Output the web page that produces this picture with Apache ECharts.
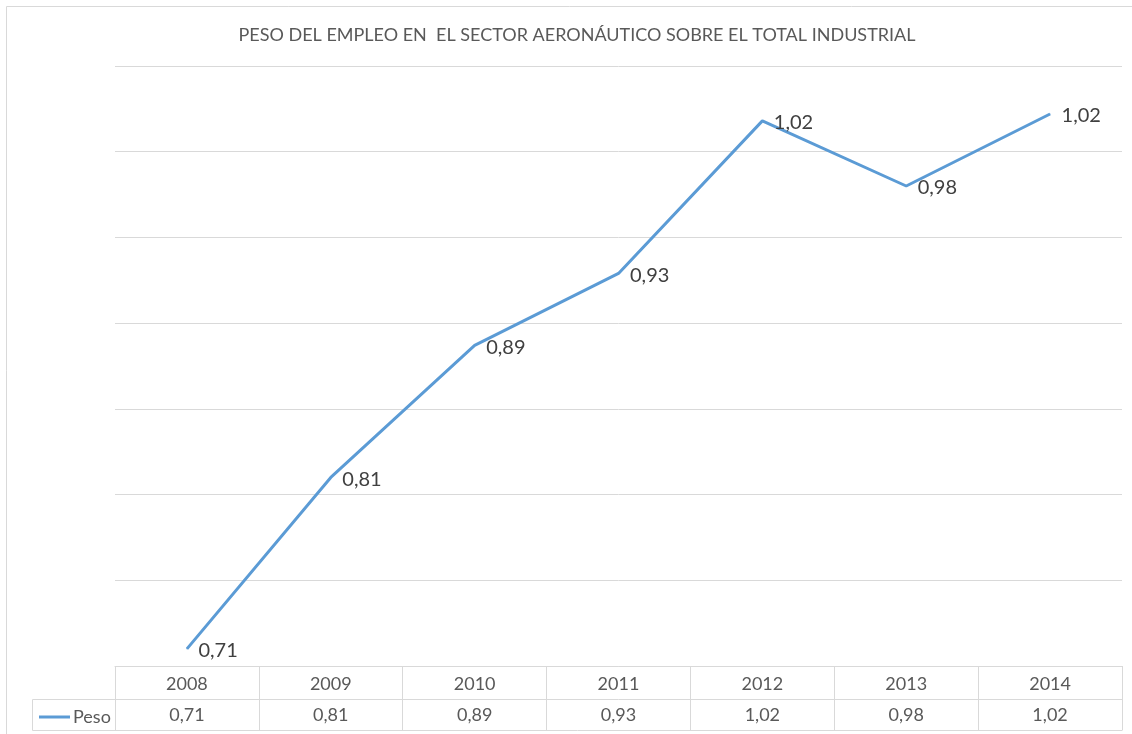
<!DOCTYPE html>
<html>
<head>
<meta charset="utf-8">
<script src="https://cdn.jsdelivr.net/npm/echarts@6/dist/echarts.min.js"></script>
<style>
  html, body { margin: 0; padding: 0; background: #fff; }
  #chart { width: 1132px; height: 734px; }
</style>
</head>
<body>
<div id="chart"></div>
<script>
const chartElement = document.getElementById('chart');
const myChart = echarts.init(chartElement);

// data
const years = ['2008', '2009', '2010', '2011', '2012', '2013', '2014'];
const peso = [0.710, 0.810, 0.887, 0.929, 1.018, 0.980, 1.022];
const seriesName = 'Peso';
const title = 'PESO DEL EMPLEO EN  EL SECTOR AERONÁUTICO SOBRE EL TOTAL INDUSTRIAL';

const FONT = 'Lato, "Open Sans", sans-serif';
const GRID_COLOR = '#d9d9d9';
const fmt = (v) => v.toFixed(2).replace('.', ',');

const option = {
    animation: false,
    title: {
        text: title,
        left: 572,
        top: 21,
        textAlign: 'center',
        textStyle: {fontFamily: FONT, fontSize: 18, fontWeight: 'normal', color: '#595959'},
    },
    legend: {
        data: [seriesName],
        left: 34,
        top: 703,
        icon: 'rect',
        itemWidth: 31,
        itemHeight: 3,
        itemGap: 4,
        textStyle: {fontFamily: FONT, fontSize: 18, color: '#595959', padding: [0, 0, 0, -2]},
    },
    grid: {left: 115, right: 10, top: 66, bottom: 68},
    xAxis: [
        {
            // year row of the data table
            type: 'category',
            data: years,
            boundaryGap: true,
            axisLine: {show: true, lineStyle: {color: GRID_COLOR, width: 1}},
            axisTick: {show: true, length: 64, lineStyle: {color: GRID_COLOR}},
            axisLabel: {margin: 9, fontFamily: FONT, fontSize: 18, color: '#595959'},
        },
        {
            // value row of the data table
            type: 'category',
            data: years,
            position: 'bottom',
            offset: 33,
            boundaryGap: true,
            axisLine: {show: true, lineStyle: {color: GRID_COLOR, width: 1}},
            axisTick: {show: false},
            axisLabel: {
                margin: 7,
                fontFamily: FONT,
                fontSize: 18,
                color: '#595959',
                formatter: (v, i) => fmt(peso[i]),
            },
        },
    ],
    yAxis: {
        type: 'value',
        min: 0.7,
        max: 1.05,
        interval: 0.05,
        axisLine: {show: false},
        axisTick: {show: false},
        axisLabel: {show: false},
        splitLine: {show: true, lineStyle: {color: GRID_COLOR, width: 1}},
    },
    graphic: [
        // outer chart border
        {type: 'rect', shape: {x: 6.5, y: 6.5, width: 1140, height: 740}, style: {fill: 'none', stroke: GRID_COLOR, lineWidth: 1}, silent: true},
        // legend cell of the data table
        {type: 'line', shape: {x1: 32.5, y1: 699.5, x2: 115, y2: 699.5}, style: {stroke: GRID_COLOR, lineWidth: 1}},
        {type: 'line', shape: {x1: 32.5, y1: 699.5, x2: 32.5, y2: 730.5}, style: {stroke: GRID_COLOR, lineWidth: 1}},
        {type: 'line', shape: {x1: 32.5, y1: 730.5, x2: 1122.5, y2: 730.5}, style: {stroke: GRID_COLOR, lineWidth: 1}},
    ],
    series: [
        {
            name: seriesName,
            type: 'line',
            data: peso,
            symbol: 'circle',
            symbolSize: 1,
            showSymbol: true,
            lineStyle: {color: '#5b9bd5', width: 3},
            itemStyle: {color: '#5b9bd5'},
            label: {
                show: true,
                position: 'right',
                distance: 11,
                offset: [0, 2],
                fontFamily: FONT,
                fontSize: 20,
                color: '#404040',
                formatter: (p) => fmt(p.value),
            },
        },
    ],
};

myChart.setOption(option);
</script>
</body>
</html>
